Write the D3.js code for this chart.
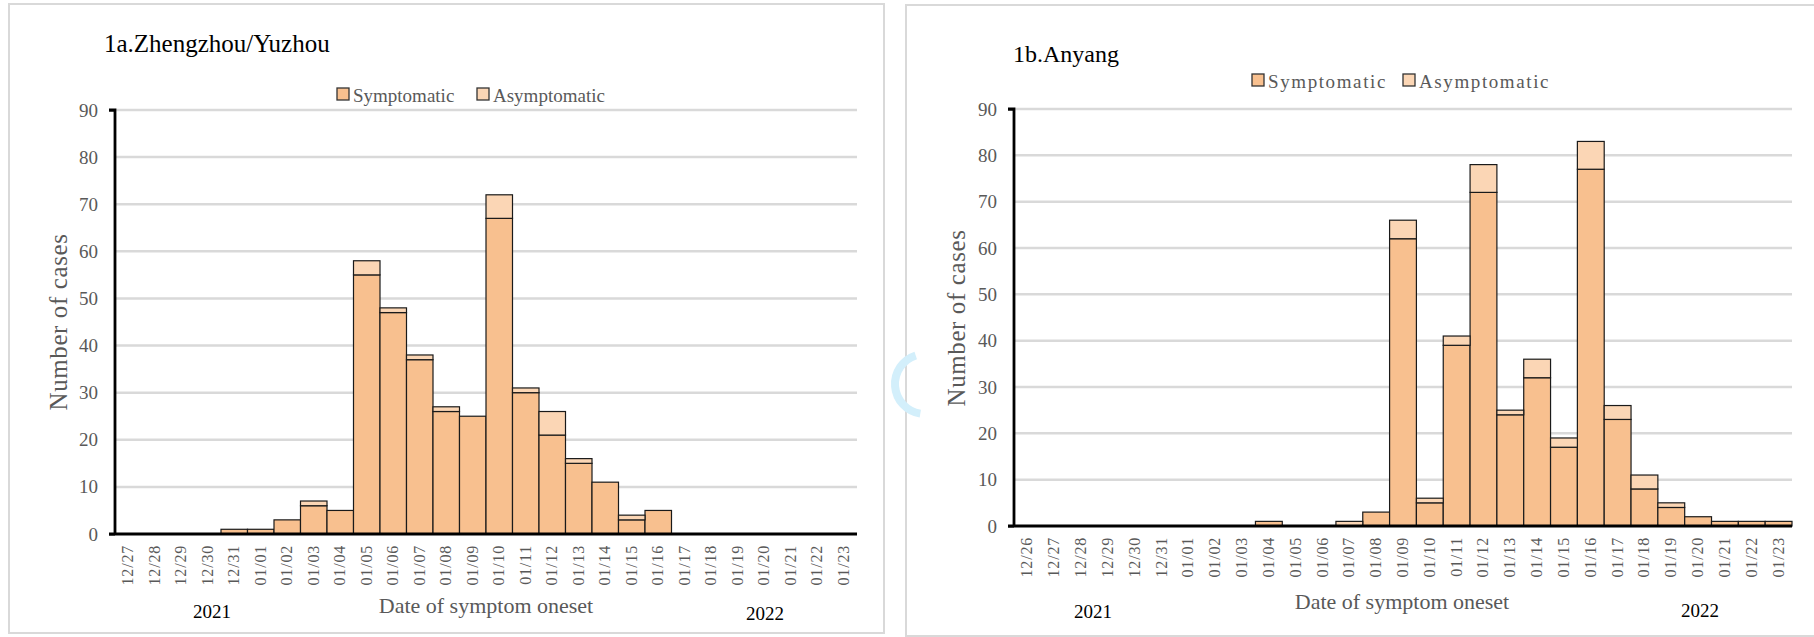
<!DOCTYPE html>
<html>
<head>
<meta charset="utf-8">
<script src="https://cdn.jsdelivr.net/npm/d3@7"></script>
<style>
  html, body { margin: 0; padding: 0; background: #ffffff; }
  svg { display: block; font-family: "Liberation Serif", "Times New Roman", serif; }
</style>
</head>
<body>
<svg id="chart" width="1814" height="637"></svg>
<script>
// Daily cases by date of symptom onset
const datesA = ["12/27","12/28","12/29","12/30","12/31","01/01","01/02","01/03","01/04","01/05",
  "01/06","01/07","01/08","01/09","01/10","01/11","01/12","01/13","01/14","01/15",
  "01/16","01/17","01/18","01/19","01/20","01/21","01/22","01/23"];
const symptomaticA  = [0,0,0,0,1,1,3,6,5,55,47,37,26,25,67,30,21,15,11,3,5,0,0,0,0,0,0,0];
const asymptomaticA = [0,0,0,0,0,0,0,1,0,3,1,1,1,0,5,1,5,1,0,1,0,0,0,0,0,0,0,0];

const datesB = ["12/26","12/27","12/28","12/29","12/30","12/31","01/01","01/02","01/03","01/04",
  "01/05","01/06","01/07","01/08","01/09","01/10","01/11","01/12","01/13","01/14",
  "01/15","01/16","01/17","01/18","01/19","01/20","01/21","01/22","01/23"];
const symptomaticB  = [0,0,0,0,0,0,0,0,0,1,0,0,0,3,62,5,39,72,24,32,17,77,23,8,4,2,1,1,1];
const asymptomaticB = [0,0,0,0,0,0,0,0,0,0,0,0,1,0,4,1,2,6,1,4,2,6,3,3,1,0,0,0,0];

const yTicks = [0,10,20,30,40,50,60,70,80,90];
const seriesNames = ["Symptomatic", "Asymptomatic"];
const seriesColors = ["#F8C08F", "#FBD6B5"];

const svg = d3.select("#chart");
const GRAY = "#595959";

function drawPanel(cfg) {
  const g = svg.append("g");

  // panel frame
  g.append("rect")
    .attr("x", cfg.frame[0]).attr("y", cfg.frame[1])
    .attr("width", cfg.frame[2]).attr("height", cfg.frame[3])
    .attr("fill", "none").attr("stroke", "#d9d9d9").attr("stroke-width", 2);

  const x = d3.scaleBand().domain(cfg.dates).range([cfg.x0, cfg.x1]).paddingInner(0).paddingOuter(0);
  const y = d3.scaleLinear().domain([0, 90]).range([cfg.y0, cfg.yTop]);

  // gridlines
  g.append("g").selectAll("line").data(yTicks.filter(t => t > 0)).join("line")
    .attr("x1", cfg.x0).attr("x2", cfg.x1)
    .attr("y1", d => y(d)).attr("y2", d => y(d))
    .attr("stroke", "#d9d9d9").attr("stroke-width", 2.5);

  // stacked bars
  const rows = cfg.dates.map((d, i) => ({ date: d, Symptomatic: cfg.sym[i], Asymptomatic: cfg.asym[i] }));
  const stacked = d3.stack().keys(seriesNames)(rows);
  stacked.forEach((layer, li) => {
    g.append("g").selectAll("rect")
      .data(layer.filter(d => d[1] - d[0] > 0)).join("rect")
      .attr("x", d => x(d.data.date))
      .attr("width", x.bandwidth())
      .attr("y", d => y(d[1]))
      .attr("height", d => y(d[0]) - y(d[1]))
      .attr("fill", seriesColors[li])
      .attr("stroke", "#1a1a1a").attr("stroke-width", 1.2);
  });

  // y axis
  const yAxis = d3.axisLeft(y).tickValues(yTicks).tickSize(6).tickPadding(11).tickFormat(d3.format("d"));
  const ya = g.append("g").attr("transform", `translate(${cfg.x0},0)`).call(yAxis);
  ya.select(".domain").attr("stroke", "#000").attr("stroke-width", 2.8).attr("d", `M-6,${cfg.yTop}H0V${cfg.y0}`);
  ya.selectAll(".tick line").attr("stroke", "#000").attr("stroke-width", 2);
  ya.selectAll(".tick line").filter(d => d !== 90 && d !== 0).remove();
  ya.selectAll(".tick text").attr("fill", GRAY).attr("font-size", 19)
    .attr("font-family", "Liberation Serif");

  // x axis
  const xAxis = d3.axisBottom(x).tickSize(0).tickPadding(0);
  const xa = g.append("g").attr("transform", `translate(0,${cfg.y0})`).call(xAxis);
  xa.select(".domain").attr("stroke", "#000").attr("stroke-width", 2.8)
    .attr("d", `M${cfg.x0 - 6},0H${cfg.x1}`);
  xa.selectAll(".tick text")
    .attr("fill", GRAY).attr("font-size", 16).attr("letter-spacing", cfg.lblSpacing)
    .attr("font-family", "Liberation Serif")
    .attr("text-anchor", "end")
    .attr("dy", null).attr("y", 0)
    .attr("transform", "translate(5," + cfg.lblOffset + ") rotate(-90)");

  // titles
  g.append("text").attr("x", cfg.titlePos[0]).attr("y", cfg.titlePos[1])
    .attr("font-size", cfg.titleSize).attr("fill", "#000").text(cfg.title);

  g.append("text")
    .attr("transform", `translate(${cfg.yTitle[0]},${cfg.yTitle[1]}) rotate(-90)`)
    .attr("text-anchor", "middle").attr("font-size", 25).attr("letter-spacing", 0.6)
    .attr("fill", GRAY).text("Number of cases");

  g.append("text").attr("x", cfg.xTitle[0]).attr("y", cfg.xTitle[1])
    .attr("text-anchor", "middle").attr("font-size", 22).attr("fill", GRAY)
    .text("Date of symptom oneset");

  g.append("text").attr("x", cfg.year1[0]).attr("y", cfg.year1[1])
    .attr("text-anchor", "middle").attr("font-size", 19).attr("fill", "#000").text("2021");
  g.append("text").attr("x", cfg.year2[0]).attr("y", cfg.year2[1])
    .attr("text-anchor", "middle").attr("font-size", 19).attr("fill", "#000").text("2022");

  // legend
  const lg = g.append("g");
  cfg.legend.forEach((pos, i) => {
    lg.append("rect").attr("x", pos[0]).attr("y", pos[1] - 14)
      .attr("width", 12).attr("height", 12)
      .attr("fill", seriesColors[i]).attr("stroke", "#333").attr("stroke-width", 1.3);
    lg.append("text").attr("x", pos[0] + 16).attr("y", pos[1])
      .attr("font-size", 19).attr("letter-spacing", cfg.legendSpacing)
      .attr("fill", GRAY).text(seriesNames[i]);
  });
}

drawPanel({
  frame: [9, 4, 875, 629],
  dates: datesA, sym: symptomaticA, asym: asymptomaticA,
  x0: 115, x1: 857, y0: 534, yTop: 110,
  title: "1a.Zhengzhou/Yuzhou", titlePos: [104, 52], titleSize: 25,
  yTitle: [67, 322], xTitle: [486, 613],
  year1: [212, 618], year2: [765, 620],
  legend: [[337, 102], [477, 102]], legendSpacing: 0,
  lblOffset: 11, lblSpacing: 0.8
});

drawPanel({
  frame: [906, 5, 920, 631],
  dates: datesB, sym: symptomaticB, asym: asymptomaticB,
  x0: 1014, x1: 1792, y0: 526, yTop: 109,
  title: "1b.Anyang", titlePos: [1013, 62], titleSize: 24,
  yTitle: [965, 318], xTitle: [1402, 609],
  year1: [1093, 618], year2: [1700, 617],
  legend: [[1252, 88], [1403, 88]], legendSpacing: 1.6,
  lblOffset: 11, lblSpacing: 0.8
});

// faint mark between the two panels
svg.append("path")
  .attr("d", d3.arc()({ innerRadius: 26, outerRadius: 34, startAngle: Math.PI * 1.05, endAngle: Math.PI * 1.9 }))
  .attr("transform", "translate(925,384)")
  .attr("fill", "#d3effb");
</script>
</body>
</html>
